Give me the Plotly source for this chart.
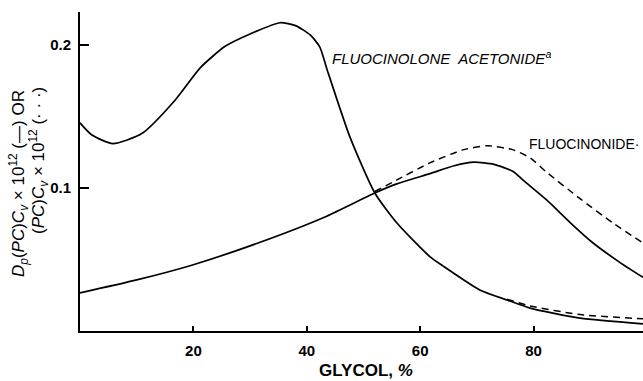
import plotly.graph_objects as go

# Fluocinolone acetonide, solid
fa_x = [0, 2.1, 5.8, 10.9, 16.8, 21.2, 25.6, 30.2, 35.3, 38, 40.6, 42.3, 43.6, 47.6, 52, 55.9, 61.7, 64, 70.5, 75.3, 79.4, 88.2, 99.3]
fa_y = [0.1455, 0.137, 0.131, 0.138, 0.1615, 0.184, 0.199, 0.208, 0.2155, 0.2135, 0.207, 0.1985, 0.1825, 0.1357, 0.0965, 0.0755, 0.052, 0.0455, 0.0287, 0.0217, 0.016, 0.009, 0.005]
# Fluocinolone acetonide, dashed branch
fa_d_x = [75.3, 79.4, 88.2, 99.3]
fa_d_y = [0.0222, 0.0175, 0.0115, 0.0085]

# Fluocinonide, solid
fn_x = [0, 10, 19.7, 31.4, 43.2, 52, 56, 61.7, 66, 69.5, 73, 76.4, 78.1, 82.3, 86.4, 90.5, 95.2, 99.3]
fn_y = [0.0266, 0.0357, 0.046, 0.0615, 0.0797, 0.0965, 0.103, 0.110, 0.1155, 0.118, 0.1165, 0.1115, 0.1056, 0.0916, 0.076, 0.0615, 0.048, 0.0375]
# Fluocinonide, dashed
fn_d_x = [52, 55.9, 61.7, 67.5, 71.8, 76.4, 79.4, 82.3, 88.2, 94, 99.3]
fn_d_y = [0.0975, 0.1056, 0.1175, 0.1266, 0.1295, 0.1266, 0.121, 0.111, 0.0925, 0.0755, 0.0615]

x_ticks = [20, 40, 60, 80]
y_ticks = [0.1, 0.2]
y_tick_text = ["0.1", "0.2"]

FONT = "Liberation Sans, Arial, sans-serif"

fig = go.Figure()
line_solid = dict(color="black", width=1.7, shape="spline", smoothing=0.6)
line_dash = dict(color="black", width=1.5, shape="spline", smoothing=0.6, dash="7px,5px")
fig.add_trace(go.Scatter(x=fa_x, y=fa_y, mode="lines", line=line_solid))
fig.add_trace(go.Scatter(x=fa_d_x, y=fa_d_y, mode="lines", line=line_dash))
fig.add_trace(go.Scatter(x=fn_x, y=fn_y, mode="lines", line=line_solid))
fig.add_trace(go.Scatter(x=fn_d_x, y=fn_d_y, mode="lines", line=line_dash))

fig.update_layout(
    width=643, height=381,
    margin=dict(l=80, r=0, t=12, b=50),
    paper_bgcolor="white", plot_bgcolor="white",
    showlegend=False,
    font=dict(family=FONT, color="black"),
    xaxis=dict(range=[0, 99.3], tickvals=x_ticks, ticktext=[f"<b>{v}</b>" for v in x_ticks],
               ticks="inside", ticklen=5, tickwidth=1.5, tickcolor="black",
               showline=True, linecolor="black", linewidth=1.8, showgrid=False, zeroline=False,
               tickfont=dict(size=15, family=FONT), ticklabelstandoff=5),
    yaxis=dict(range=[0, 0.223], tickvals=y_ticks, ticktext=[f"<b>{t}</b>" for t in y_tick_text],
               ticks="inside", ticklen=9, tickwidth=1.5, tickcolor="black",
               showline=True, linecolor="black", linewidth=1.8, showgrid=False, zeroline=False,
               tickfont=dict(size=15, family=FONT), ticklabelstandoff=4),
)

def px_to_paper_x(px):
    return (px - 80) / 563

def px_to_paper_y(py):
    return (331 - py) / 319

def ann(px, py, text, size, angle=0, xanchor="center"):
    return dict(x=px_to_paper_x(px), y=px_to_paper_y(py), xref="paper", yref="paper",
                showarrow=False, xanchor=xanchor, yanchor="middle", textangle=angle,
                text=text, font=dict(size=size, family=FONT))

annotations = [
    ann(366, 370, "<b>GLYCOL, <i>%</i></b>", 17),
    ann(330, 58, "<i>FLUOCINOLONE  ACETONIDE<sup>a</sup></i>", 15, xanchor="left"),
    ann(527, 144, "FLUOCINONIDE·", 14, xanchor="left"),
    ann(19, 184, "<i>D<sub>p</sub></i>(<i>PC</i>)<i>C<sub>v</sub></i> × 10<sup>12</sup> (—) OR", 17, angle=-90),
    ann(38, 161, "(<i>PC</i>)<i>C<sub>v</sub></i> × 10<sup>12</sup> (· · ·)", 17, angle=-90),
]
fig.update_layout(annotations=annotations)

fig.write_html("out.html")
